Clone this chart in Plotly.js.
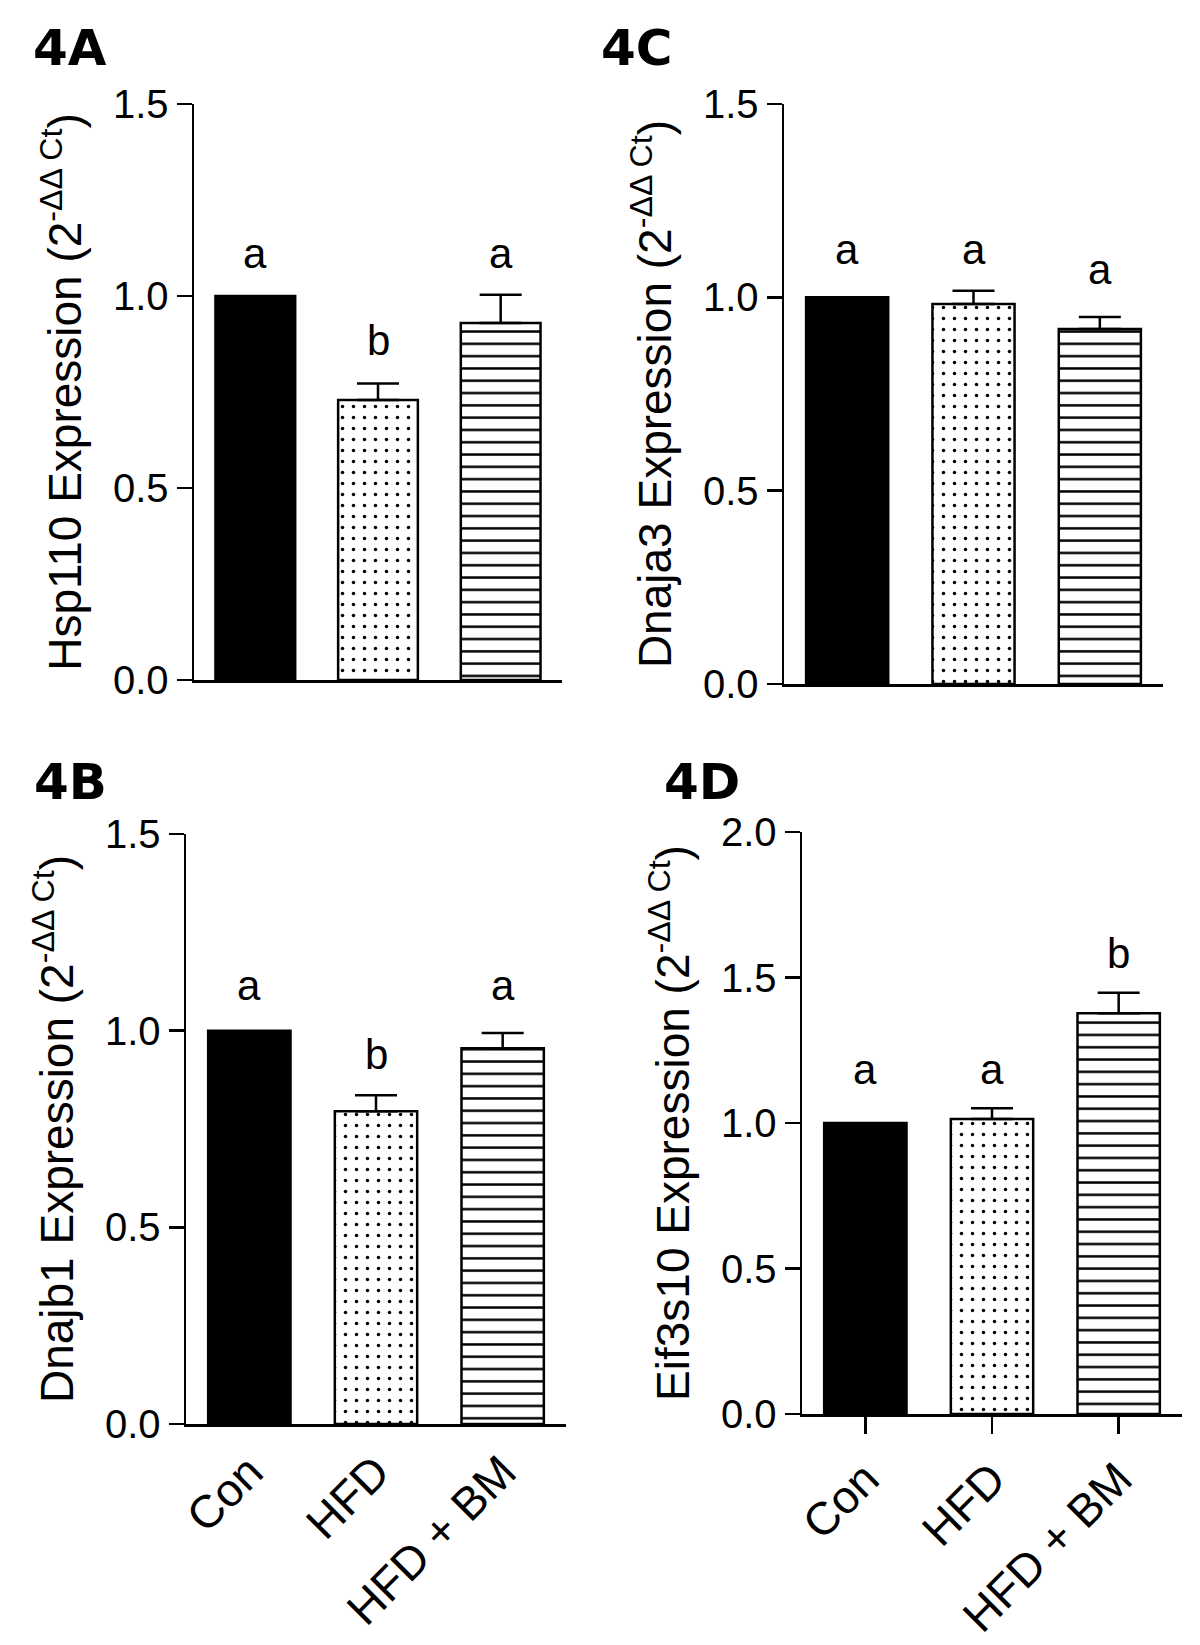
<!DOCTYPE html>
<html>
<head>
<meta charset="utf-8">
<script src="https://cdn.plot.ly/plotly-3.0.1.min.js"></script>
<style>html,body{margin:0;padding:0;background:#fff;}#chart{width:1200px;height:1645px;}</style>
</head>
<body>
<div id="chart"></div>
<script>
// ---- data ----
const categories = ['Con', 'HFD', 'HFD + BM'];

const hsp110 = [1.0, 0.729, 0.930];
const hsp110Err = [null, 0.043, 0.073];
const hsp110Letters = ['a', 'b', 'a'];
const hsp110LetterY = [1.11, 0.884, 1.11];

const dnaja3 = [1.0, 0.983, 0.918];
const dnaja3Err = [null, 0.034, 0.031];
const dnaja3Letters = ['a', 'a', 'a'];
const dnaja3LetterY = [1.124, 1.124, 1.073];

const dnajb1 = [1.0, 0.795, 0.955];
const dnajb1Err = [null, 0.041, 0.039];
const dnajb1Letters = ['a', 'b', 'a'];
const dnajb1LetterY = [1.114, 0.939, 1.114];

const eif3s10 = [1.0, 1.014, 1.377];
const eif3s10Err = [null, 0.037, 0.071];
const eif3s10Letters = ['a', 'a', 'b'];
const eif3s10LetterY = [1.183, 1.183, 1.584];

const yTicks15 = [0, 0.5, 1.0, 1.5];
const yTicks20 = [0, 0.5, 1.0, 1.5, 2.0];

// ---- styling ----
const FONT = 'Liberation Sans, Arial, Helvetica, sans-serif';
const W = 1200, H = 1645;

// one style per group: Con solid black, HFD dotted, HFD + BM horizontal lines
const groupStyle = [
  {color: '#000000', pattern: null},
  {color: '#ffffff', pattern: {shape: '.', fgcolor: '#000000', bgcolor: '#ffffff', size: 11, solidity: 0.08}},
  {color: '#ffffff', pattern: {shape: '-', fgcolor: '#000000', bgcolor: '#ffffff', size: 12.3, solidity: 0.2}}
];

function barTraces(values, err, xa, ya) {
  return categories.map((c, i) => {
    const marker = {color: groupStyle[i].color, line: {color: '#000000', width: 2.5}};
    if (groupStyle[i].pattern) marker.pattern = groupStyle[i].pattern;
    const t = {
      type: 'bar', x: [c], y: [values[i]], xaxis: xa, yaxis: ya,
      width: 0.65, marker: marker,
      hoverinfo: 'skip', showlegend: false
    };
    if (err[i] !== null) {
      t.error_y = {
        type: 'data', symmetric: false, array: [err[i]], arrayminus: [0],
        color: '#000000', thickness: 2.5, width: 21
      };
    }
    return t;
  });
}

function xAxis(px0, px1, anchor, showLabels, showTicks) {
  return {
    domain: [px0 / W, px1 / W], anchor: anchor,
    range: [-0.5, 2.5], type: 'category', categoryarray: categories, categoryorder: 'array',
    showline: true, linecolor: '#000', linewidth: 2.5,
    showgrid: false, zeroline: false,
    ticks: showTicks ? 'outside' : '', ticklen: 17, tickwidth: 2.5, tickcolor: '#000',
    showticklabels: showLabels, tickangle: -45,
    tickfont: {family: FONT, size: 46, color: '#000'},
    automargin: false
  };
}

function yAxis(pyBottom, pyTop, anchor, max, ticks, title) {
  return {
    domain: [1 - pyBottom / H, 1 - pyTop / H], anchor: anchor,
    range: [0, max],
    tickvals: ticks, tickformat: '.1f',
    showline: true, linecolor: '#000', linewidth: 2.5,
    showgrid: false, zeroline: false,
    ticks: 'outside', ticklen: 15, tickwidth: 2.5, tickcolor: '#000',
    tickfont: {family: FONT, size: 40, color: '#000'},
    title: {text: title, font: {family: FONT, size: 46, color: '#000'}, standoff: 17},
    automargin: false
  };
}

function letterAnnots(letters, ys, xref, yref) {
  return letters.map((t, i) => ({
    text: t, x: categories[i], y: ys[i], xref: xref, yref: yref,
    showarrow: false, xanchor: 'center', yanchor: 'middle',
    font: {family: FONT, size: 42, color: '#000'}
  }));
}

function panelLabel(text, cx, cy) {
  return {
    text: '<b>' + text + '</b>', x: cx / W, y: 1 - cy / H, xref: 'paper', yref: 'paper',
    showarrow: false, xanchor: 'center', yanchor: 'middle',
    font: {family: 'DejaVu Sans, sans-serif', size: 50, color: '#000'}
  };
}

const sup = '<sup>-ΔΔ Ct</sup>';

const data = [].concat(
  barTraces(hsp110, hsp110Err, 'x', 'y'),
  barTraces(dnaja3, dnaja3Err, 'x2', 'y2'),
  barTraces(dnajb1, dnajb1Err, 'x3', 'y3'),
  barTraces(eif3s10, eif3s10Err, 'x4', 'y4')
);

const layout = {
  width: W, height: H,
  margin: {l: 0, r: 0, t: 0, b: 0},
  paper_bgcolor: '#fff', plot_bgcolor: 'rgba(0,0,0,0)',
  showlegend: false, barmode: 'overlay',
  font: {family: FONT, color: '#000'},
  xaxis: xAxis(194, 562, 'y', false, false),
  yaxis: yAxis(680, 104, 'x', 1.5, yTicks15, 'Hsp110 Expression (2' + sup + ')'),
  xaxis2: xAxis(784, 1163, 'y2', false, false),
  yaxis2: yAxis(684, 104, 'x2', 1.5, yTicks15, 'Dnaja3 Expression (2' + sup + ')'),
  xaxis3: xAxis(186, 566, 'y3', true, false),
  yaxis3: yAxis(1424, 834, 'x3', 1.5, yTicks15, 'Dnajb1 Expression (2' + sup + ')'),
  xaxis4: xAxis(802, 1182, 'y4', true, true),
  yaxis4: yAxis(1414, 832, 'x4', 2.0, yTicks20, 'Eif3s10 Expression (2' + sup + ')'),
  annotations: [
    panelLabel('4A', 70, 48),
    panelLabel('4C', 636, 48),
    panelLabel('4B', 70, 782),
    panelLabel('4D', 702, 782)
  ].concat(
    letterAnnots(hsp110Letters, hsp110LetterY, 'x', 'y'),
    letterAnnots(dnaja3Letters, dnaja3LetterY, 'x2', 'y2'),
    letterAnnots(dnajb1Letters, dnajb1LetterY, 'x3', 'y3'),
    letterAnnots(eif3s10Letters, eif3s10LetterY, 'x4', 'y4')
  )
};

Plotly.newPlot('chart', data, layout, {staticPlot: true, displayModeBar: false});
</script>
</body>
</html>
